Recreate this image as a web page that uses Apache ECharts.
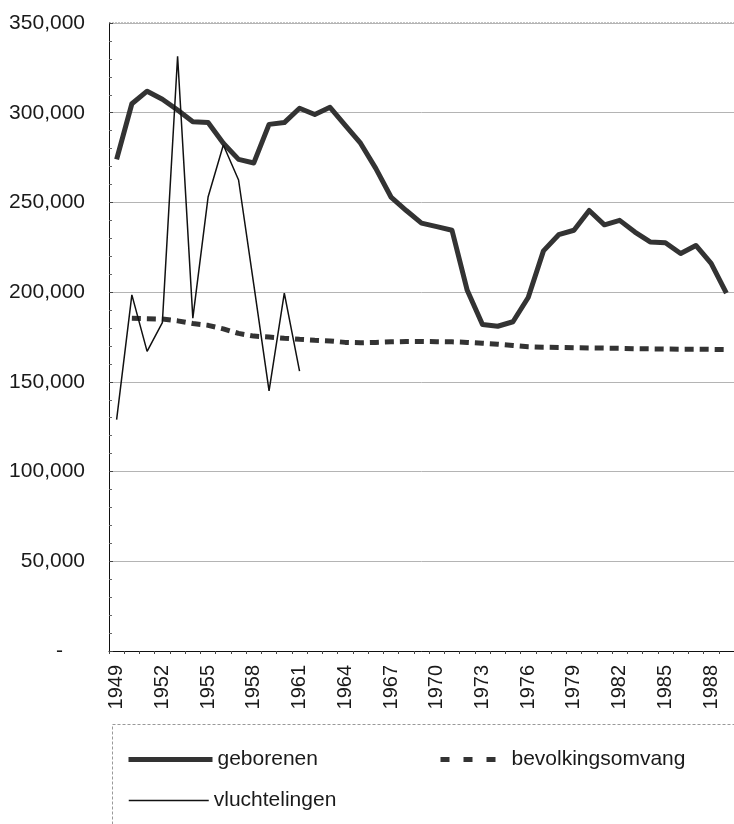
<!DOCTYPE html>
<html>
<head>
<meta charset="utf-8">
<script src="https://cdn.jsdelivr.net/npm/echarts@6/dist/echarts.min.js"></script>
<style>
  html, body { margin: 0; padding: 0; background: #fff; }
  #chart { width: 734px; height: 824px; }
</style>
</head>
<body>
<div id="chart"></div>
<script>
// jaren op de x-as
var years = ['1949', '1950', '1951', '1952', '1953', '1954', '1955', '1956', '1957', '1958',
  '1959', '1960', '1961', '1962', '1963', '1964', '1965', '1966', '1967', '1968',
  '1969', '1970', '1971', '1972', '1973', '1974', '1975', '1976', '1977', '1978',
  '1979', '1980', '1981', '1982', '1983', '1984', '1985', '1986', '1987', '1988', '1989']

// geboorten per jaar
var geborenen = [274000, 305000, 312000, 307500, 301500, 295000, 294500, 283000, 274000, 272000,
  293500, 294500, 302500, 299000, 303000, 293000, 283000, 269000, 253000, 245500,
  238500, 236500, 234500, 201000, 182000, 181000, 183500, 197000, 223000, 232000,
  234500, 245500, 237500, 240000, 233500, 228000, 227500, 221500, 226000, 216000, 199500]

// vluchtelingen (alleen 1949-1961)
var vluchtelingen = [129000, 198500, 167000, 183000, 331500, 185500, 253000, 282000, 262500, 204000,
  145000, 199500, 156000]

// bevolkingsomvang (geschaald), vanaf 1950
var bevolkingsomvang = [null, 185400, 185200, 185000, 184000, 182500, 181500, 179500, 177000, 175500,
  175000, 174300, 173700, 173200, 172800, 172000, 171800, 172000, 172300, 172500,
  172500, 172400, 172300, 172000, 171500, 171000, 170300, 169600, 169300, 169200,
  169000, 168900, 168800, 168700, 168500, 168400, 168300, 168200, 168200, 168100, 168000]

var yMin = 0
var yMax = 350000
var yStep = 50000

var font = 'Arial, "Liberation Sans", sans-serif'

function fmt(v) {
  if (v === 0) return '{z|-}'
  return String(v).replace(/\B(?=(\d{3})+(?!\d))/g, ',')
}

// legenda zonder bolletje, alleen de lijn
var noSymbol = { color: 'rgba(0,0,0,0)', borderWidth: 0, opacity: 0 }

var chart = echarts.init(document.getElementById('chart'), null, { renderer: 'canvas' })

var option = {
  backgroundColor: '#fff',
  animation: false,
  grid: {
    left: 109,
    right: -8,
    top: 23,
    bottom: 173,
    show: false
  },
  xAxis: {
    type: 'category',
    data: years,
    boundaryGap: true,
    axisLine: { show: true, lineStyle: { color: '#111', width: 1 } },
    axisTick: { show: true, interval: 0, length: 3, lineStyle: { color: '#444' } },
    axisLabel: {
      interval: 2,
      rotate: 90,
      margin: 14,
      fontSize: 20,
      fontFamily: font,
      color: '#1a1a1a'
    },
    splitLine: { show: false }
  },
  yAxis: {
    type: 'value',
    min: yMin,
    max: yMax,
    interval: yStep,
    axisLine: { show: true, lineStyle: { color: '#111', width: 1 } },
    axisTick: { show: true, inside: true, length: 4, lineStyle: { color: '#444' } },
    minorTick: { show: true, splitNumber: 5, length: 3, lineStyle: { color: '#666' } },
    axisLabel: {
      margin: 24,
      fontSize: 21,
      fontFamily: font,
      color: '#1a1a1a',
      formatter: fmt,
      rich: {
        z: { fontSize: 21, fontFamily: font, color: '#1a1a1a', padding: [0, 22, 0, 0] }
      }
    },
    splitLine: {
      show: true,
      lineStyle: { color: '#b4b4b4', width: 1 }
    }
  },
  legend: [
    {
      left: 121, top: 744,
      itemWidth: 84, itemHeight: 14,
      textStyle: { fontSize: 21, fontFamily: font, color: '#1a1a1a' },
      data: [{ name: 'geborenen', itemStyle: noSymbol, lineStyle: { width: 5, opacity: 1 } }]
    },
    {
      left: 433, top: 744,
      itemWidth: 56, itemHeight: 14,
      textStyle: { fontSize: 21, fontFamily: font, color: '#1a1a1a', padding: [0, 0, 0, 10] },
      data: [{ name: 'bevolkingsomvang', itemStyle: noSymbol, lineStyle: { width: 5, type: [9, 14], opacity: 1 } }]
    },
    {
      left: 123, top: 785,
      itemWidth: 80, itemHeight: 14,
      textStyle: { fontSize: 21, fontFamily: font, color: '#1a1a1a' },
      data: [{ name: 'vluchtelingen', itemStyle: noSymbol, lineStyle: { width: 1.5, opacity: 1 } }]
    }
  ],
  graphic: [
    {
      type: 'rect',
      left: 110,
      top: 722,
      shape: { width: 700, height: 200 },
      style: { fill: 'none', stroke: '#999', lineWidth: 1, lineDash: [3, 2] },
      silent: true
    },
    {
      // bovenrand plotgebied (gestippeld)
      type: 'line',
      shape: { x1: 109, y1: 23, x2: 734, y2: 23 },
      style: { stroke: '#888', lineWidth: 1, lineDash: [2, 1] },
      silent: true
    }
  ],
  series: [
    {
      name: 'geborenen',
      type: 'line',
      data: geborenen,
      symbol: 'none',
      lineStyle: { color: '#333', width: 5, join: 'round' },
      itemStyle: { color: '#333' },
      z: 3
    },
    {
      name: 'bevolkingsomvang',
      type: 'line',
      data: bevolkingsomvang,
      symbol: 'none',
      lineStyle: { color: '#333', width: 5, type: [9, 6] },
      itemStyle: { color: '#333' },
      z: 2
    },
    {
      name: 'vluchtelingen',
      type: 'line',
      data: vluchtelingen,
      symbol: 'none',
      lineStyle: { color: '#111', width: 1.5 },
      itemStyle: { color: '#111' },
      z: 4
    }
  ]
}

chart.setOption(option)
window.addEventListener('resize', chart.resize)
</script>
</body>
</html>
